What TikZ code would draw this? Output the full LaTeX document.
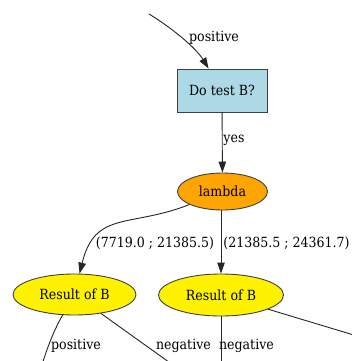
\documentclass[tikz,border=0pt]{standalone}
\usepackage{fontspec}
\setmainfont{DejaVu Serif Condensed}
\usetikzlibrary{arrows.meta,shapes.geometric}

\tikzset{
  every node/.style={font=\rmfamily\fontsize{14}{17}\selectfont, inner sep=0pt},
  edge/.style={draw=black!85, line width=0.9pt},
  arr/.style={edge, -{Triangle[length=11pt,width=7.5pt]}},
  boxnode/.style={rectangle, draw=black!75, line width=0.9pt, fill={rgb,255:red,173;green,216;blue,230}},
  ovalnode/.style={ellipse, draw=black!75, line width=0.9pt},
  lbl/.style={anchor=center}
}

\begin{document}
\begin{tikzpicture}[x=1pt,y=-1pt]
  \useasboundingbox (0,0) rectangle (352,361);
  \clip (0,0) rectangle (352,361);

  % nodes
  \node[boxnode, minimum width=90pt, minimum height=43pt] (test) at (222,90.5) {Do test B?};
  \node[ovalnode, fill={rgb,255:red,255;green,165;blue,0}, minimum width=90pt, minimum height=37pt] (lam) at (222.5,191.5) {lambda};
  \node[ovalnode, fill=yellow, minimum width=123pt, minimum height=41pt] (resA) at (74.5,294.5) {Result of B};
  \node[ovalnode, fill=yellow, minimum width=125pt, minimum height=42pt] (resB) at (221,295) {Result of B};

  % free ends outside the frame
  \coordinate (inTop) at (149,14);
  \coordinate (outA1) at (40,372);
  \coordinate (outA2) at (173,365);
  \coordinate (outB1) at (221,372);
  \coordinate (outB2) at (372,340.5);

  % connectors
  \draw[arr] (inTop) .. controls (172,28) and (196,48) .. (test);
  \draw[arr] (test) -- (lam);
  \draw[arr] (lam) .. controls (130,228) and (95,210) .. (resA);
  \draw[arr] (lam.south -| resB.north) -- (resB.north);
  \draw[edge] (resA) .. controls (54,330) and (46,350) .. (outA1);
  \draw[edge] (resA) -- (outA2);
  \draw[edge] (resB) -- (outB1);
  \draw[edge] (resB) -- (outB2);

  % edge labels
  \node[lbl] (lPos) at (214,38) {positive};
  \node[lbl] (lYes) at (234,140) {yes};
  \node[lbl] (lRange1) at (155,243) {(7719.0 ; 21385.5)};
  \node[lbl] (lRange2) at (286.5,243) {(21385.5 ; 24361.7)};
  \node[lbl] (lPosA) at (76,346) {positive};
  \node[lbl] (lNegA) at (183.5,346) {negative};
  \node[lbl] (lNegB) at (246.5,346) {negative};
\end{tikzpicture}
\end{document}
